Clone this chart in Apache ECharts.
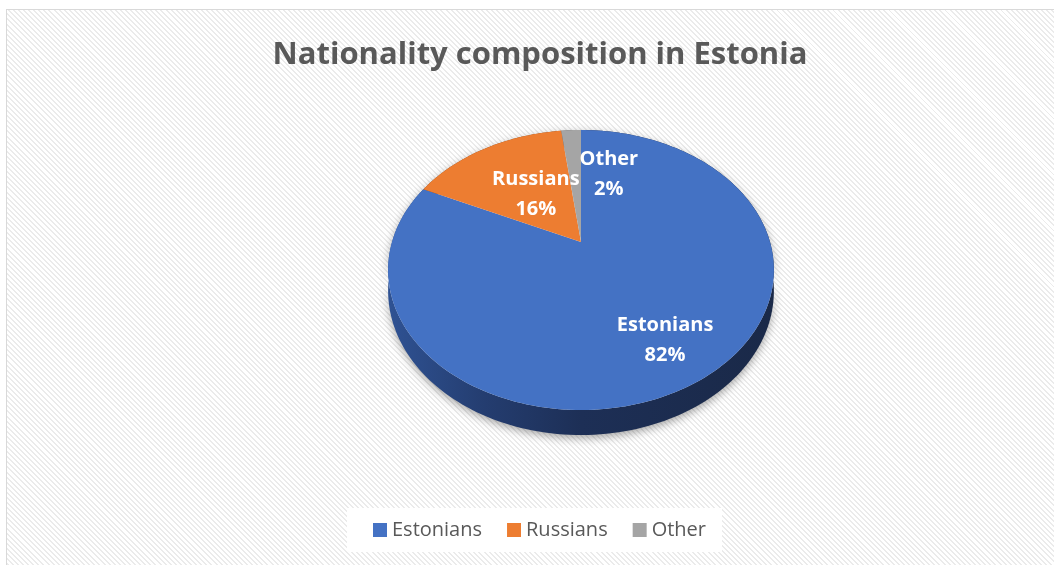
<!DOCTYPE html>
<html>
<head>
<meta charset="utf-8">
<script src="https://cdn.jsdelivr.net/npm/echarts@6/dist/echarts.min.js"></script>
<style>
  html, body { margin: 0; padding: 0; background: #fff; }
  #wrap { position: relative; width: 1054px; height: 565px; overflow: hidden; background: #fff; }
  #frame { position: absolute; left: 6px; top: 9px; width: 1060px; height: 570px;
    border: 1.5px solid #d9d9d9; box-sizing: border-box;
    background: repeating-linear-gradient(45deg, #ffffff 0px, #ffffff 2.2px, #ebebeb 2.2px, #ebebeb 3.6px); }
  #chart { position: absolute; left: 0; top: 0; width: 1054px; height: 565px; }
</style>
</head>
<body>
<div id="wrap"><div id="frame"></div><div id="chart"></div></div>
<script>
// ---- data ----
const categories = ['Estonians', 'Russians', 'Other'];
const values = [82, 16, 2];
const colors = ['#4472c4', '#ed7d31', '#a5a5a5'];
const sideColors = ['#1f3461', '#8a4418', '#5e5e5e'];
const titleText = 'Nationality composition in Estonia';

// ---- layout (pie projection) ----
const CX = 581, CY = 242, RX = 189, RY = 134.4, K = 0.2, DEPTH = 20;
const total = values.reduce((a, b) => a + b, 0);
const starts = [];
{ let acc = 0; values.forEach(v => { starts.push(acc / total * 360); acc += v; }); }
// label placement (fraction of radius, angle offset in degrees) per slice
const labelPlace = [{ f: 0.745, da: 1 }, { f: 0.46, da: 2 }, { f: 0.58, da: 20 }];

function proj(deg, f, depth) {
  const t = deg * Math.PI / 180;
  const u = Math.sin(t) * f, v = Math.cos(t) * f;
  const s = 1 / (1 + K * v);
  return [CX + RX * u * s, CY - RY * v * s + depth * s];
}
function arcPts(a1, a2, depth) {
  const pts = [];
  const n = Math.max(2, Math.ceil((a2 - a1) / 1.5));
  for (let i = 0; i <= n; i++) pts.push(proj(a1 + (a2 - a1) * i / n, 1, depth));
  return pts;
}

const sideGradient = new echarts.graphic.LinearGradient(388, 0, 774, 0, [
  { offset: 0, color: '#2f5293' },
  { offset: 0.25, color: '#243d70' },
  { offset: 0.5, color: '#1d2f56' },
  { offset: 1, color: '#1a2948' }
], true);

function makeRender(idx) {
  return function (params, api) {
    const a1 = starts[idx];
    const a2 = a1 + values[idx] / total * 360;
    const top = arcPts(a1, a2, 0);
    const bottom = arcPts(a1, a2, DEPTH).reverse();
    const children = [];
    children.push({
      type: 'polygon', z2: 1,
      shape: { points: top.concat(bottom) },
      style: { fill: idx === 0 ? sideGradient : sideColors[idx],
        shadowBlur: 9, shadowColor: 'rgba(0,0,0,0.35)', shadowOffsetY: 3 }
    });
    children.push({
      type: 'polygon', z2: 10,
      shape: { points: [[CX, CY]].concat(top) },
      style: { fill: colors[idx] }
    });
    const lp = labelPlace[idx];
    const mid = (a1 + a2) / 2 + lp.da;
    const p = proj(mid, lp.f, 0);
    children.push({
      type: 'text', z2: 20,
      style: {
        text: categories[idx] + '\n' + Math.round(values[idx] / total * 100) + '%',
        x: p[0], y: p[1], fill: '#ffffff',
        font: 'bold 20px "Open Sans"', lineHeight: 30,
        align: 'center', verticalAlign: 'middle'
      }
    });
    return { type: 'group', children: children };
  };
}

const chart = echarts.init(document.getElementById('chart'), null, { renderer: 'canvas' });
chart.setOption({
  backgroundColor: 'transparent',
  animation: false,
  title: {
    text: titleText, left: 535, top: 35, textAlign: 'center',
    textStyle: { fontFamily: 'Open Sans', fontWeight: 'bold', fontSize: 31, color: '#595959' }
  },
  legend: {
    data: categories, left: 347, top: 508, icon: 'rect',
    itemWidth: 14, itemHeight: 14, itemGap: 25,
    padding: [12, 16, 12, 26], backgroundColor: '#ffffff',
    textStyle: { fontFamily: 'Open Sans', fontSize: 20, color: '#595959' }
  },
  series: categories.map((name, i) => ({
    type: 'custom', name: name, coordinateSystem: 'none',
    itemStyle: { color: colors[i] },
    data: [[values[i]]],
    renderItem: makeRender(i)
  }))
});
</script>
</body>
</html>
